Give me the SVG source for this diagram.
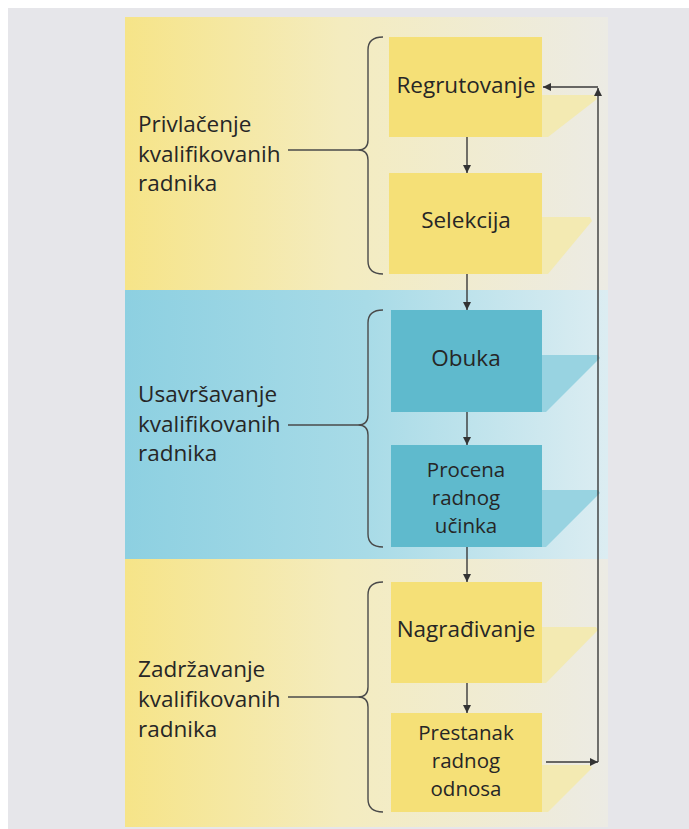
<svg xmlns="http://www.w3.org/2000/svg" width="689" height="829" viewBox="0 0 689 829">
<defs>
<linearGradient id="gy" x1="0" y1="0" x2="1" y2="0">
<stop offset="0" stop-color="#f6e488"/>
<stop offset="0.45" stop-color="#f4ecbf"/>
<stop offset="1" stop-color="#ecebe4"/>
</linearGradient>
<linearGradient id="gb" x1="0" y1="0" x2="1" y2="0">
<stop offset="0" stop-color="#8dd0e1"/>
<stop offset="0.5" stop-color="#a8dbe7"/>
<stop offset="1" stop-color="#dcedf2"/>
</linearGradient>
<marker id="ah" viewBox="0 0 10 10" refX="10" refY="5" markerWidth="8" markerHeight="8" markerUnits="userSpaceOnUse" orient="auto">
<path d="M0,0 L10,5 L0,10 Z" fill="#333"/>
</marker>
<style>
text{font-family:"Open Sans","Noto Sans","DejaVu Sans",sans-serif;font-size:22.5px;fill:#262626}
.c{text-anchor:middle}
.m{font-size:20.5px}
.yb{fill:#f5e077}
.ys{fill:#f3eab2}
.bb{fill:#5fbacd}
.bs{fill:#98d3e1}
.br{fill:none;stroke:#4a4a4a;stroke-width:1.4}
.ln{fill:none;stroke:#3a3a3a;stroke-width:1.4}
</style>
</defs>
<rect width="689" height="829" fill="#ffffff"/>
<rect x="8" y="8" width="681" height="821" fill="#e6e6ea"/>
<g id="bands">
<rect x="125" y="17" width="483" height="273" fill="url(#gy)"/>
<rect x="125" y="290" width="483" height="269" fill="url(#gb)"/>
<rect x="125" y="559" width="483" height="268" fill="url(#gy)"/>
</g>
<g id="group-privlacenje">
<text x="138" y="132">Privlačenje</text>
<text x="138" y="162">kvalifikovanih</text>
<text x="138" y="191">radnika</text>
<path class="br" d="M288,150 H358"/>
<path class="br" d="M383,37 Q368,37 368,50 V140 Q368,150 358,150 Q368,150 368,160 V261 Q368,274 383,274"/>
</g>
<g id="group-usavrsavanje">
<text x="138" y="402">Usavršavanje</text>
<text x="138" y="432">kvalifikovanih</text>
<text x="138" y="461">radnika</text>
<path class="br" d="M288,425 H358"/>
<path class="br" d="M383,310 Q368,310 368,323 V415 Q368,425 358,425 Q368,425 368,435 V534 Q368,547 383,547"/>
</g>
<g id="group-zadrzavanje">
<text x="138" y="677">Zadržavanje</text>
<text x="138" y="707">kvalifikovanih</text>
<text x="138" y="737">radnika</text>
<path class="br" d="M288,697 H358"/>
<path class="br" d="M383,582 Q368,582 368,595 V687 Q368,697 358,697 Q368,697 368,707 V799 Q368,812 383,812"/>
</g>
<g id="regrutovanje">
<polygon class="ys" points="542,95 595,95 597,99 548,137 542,137"/>
<rect class="yb" x="389" y="37" width="153" height="100"/>
<text class="c" x="466" y="93">Regrutovanje</text>
</g>
<g id="selekcija">
<polygon class="ys" points="542,217 590,217 592,221 548,274 542,274"/>
<rect class="yb" x="389" y="173" width="153" height="101"/>
<text class="c" x="466" y="228">Selekcija</text>
</g>
<g id="obuka">
<polygon class="bs" points="542,355 598,355 600,358 546,412 542,412"/>
<rect class="bb" x="391" y="310" width="151" height="102"/>
<text class="c" x="466" y="366">Obuka</text>
</g>
<g id="procena">
<polygon class="bs" points="542,490 598,490 600,493 546,547 542,547"/>
<rect class="bb" x="391" y="445" width="151" height="102"/>
<text class="c m" x="466" y="477">Procena</text>
<text class="c m" x="466" y="505">radnog</text>
<text class="c m" x="466" y="533">učinka</text>
</g>
<g id="nagradjivanje">
<polygon class="ys" points="542,627 596,627 598,630 546,683 542,683"/>
<rect class="yb" x="391" y="582" width="151" height="101"/>
<text class="c" x="466" y="637">Nagrađivanje</text>
</g>
<g id="prestanak">
<polygon class="ys" points="542,765 590,765 592,768 548,812 542,812"/>
<rect class="yb" x="391" y="713" width="151" height="99"/>
<text class="c m" x="466" y="740">Prestanak</text>
<text class="c m" x="466" y="768">radnog</text>
<text class="c m" x="466" y="796">odnosa</text>
</g>
<g id="connectors">
<line class="ln" x1="467" y1="137" x2="467" y2="173" marker-end="url(#ah)"/>
<line class="ln" x1="467" y1="274" x2="467" y2="310" marker-end="url(#ah)"/>
<line class="ln" x1="467" y1="412" x2="467" y2="445" marker-end="url(#ah)"/>
<line class="ln" x1="467" y1="547" x2="467" y2="582" marker-end="url(#ah)"/>
<line class="ln" x1="467" y1="683" x2="467" y2="713" marker-end="url(#ah)"/>
<line class="ln" x1="546" y1="762" x2="598" y2="762" marker-end="url(#ah)"/>
<line class="ln" x1="598" y1="762" x2="598" y2="88" marker-end="url(#ah)"/>
<line class="ln" x1="598" y1="87" x2="543" y2="87" marker-end="url(#ah)"/>
</g>
</svg>
